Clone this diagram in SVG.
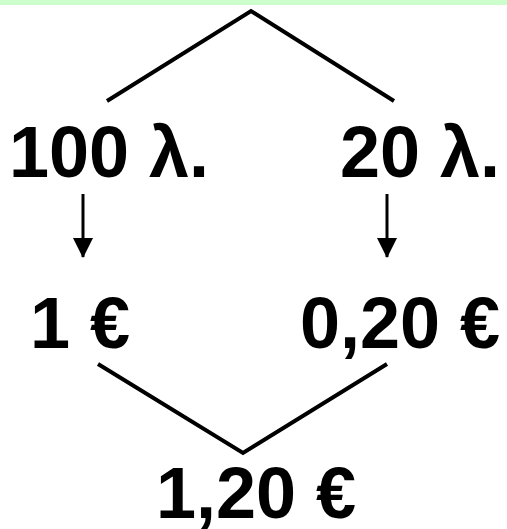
<svg xmlns="http://www.w3.org/2000/svg" width="507" height="529" viewBox="0 0 507 529">
<style>
.t{font-family:"Liberation Sans",Arial,sans-serif;font-weight:bold;font-size:72px;fill:#000;text-anchor:middle}
.l{stroke:#000;stroke-width:4;fill:none}
.a{stroke:#000;stroke-width:3;marker-end:url(#ah)}
</style>
<defs>
<marker id="ah" markerWidth="20" markerHeight="20" refX="19" refY="10" orient="auto" markerUnits="userSpaceOnUse">
<path d="M0,0 L20,10 L0,20 Z" fill="#000"/>
</marker>
</defs>
<rect x="0" y="0" width="507" height="5" fill="#CCFFCC"/>
<g id="connectors">
<polyline class="l" points="107,101 251,11 394,101"/>
<line class="a" x1="83" y1="194" x2="83" y2="257"/>
<line class="a" x1="387" y1="194" x2="387" y2="257"/>
<polyline class="l" points="98,364 243,453 387,364"/>
</g>
<g id="n100"><text class="t" x="109" y="177">100 λ.</text></g>
<g id="n20"><text class="t" x="420" y="177">20 λ.</text></g>
<g id="e1"><text class="t" x="80" y="348">1 €</text></g>
<g id="e020"><text class="t" x="400" y="348">0,20 €</text></g>
<g id="e120"><text class="t" x="256" y="518">1,20 €</text></g>
</svg>
